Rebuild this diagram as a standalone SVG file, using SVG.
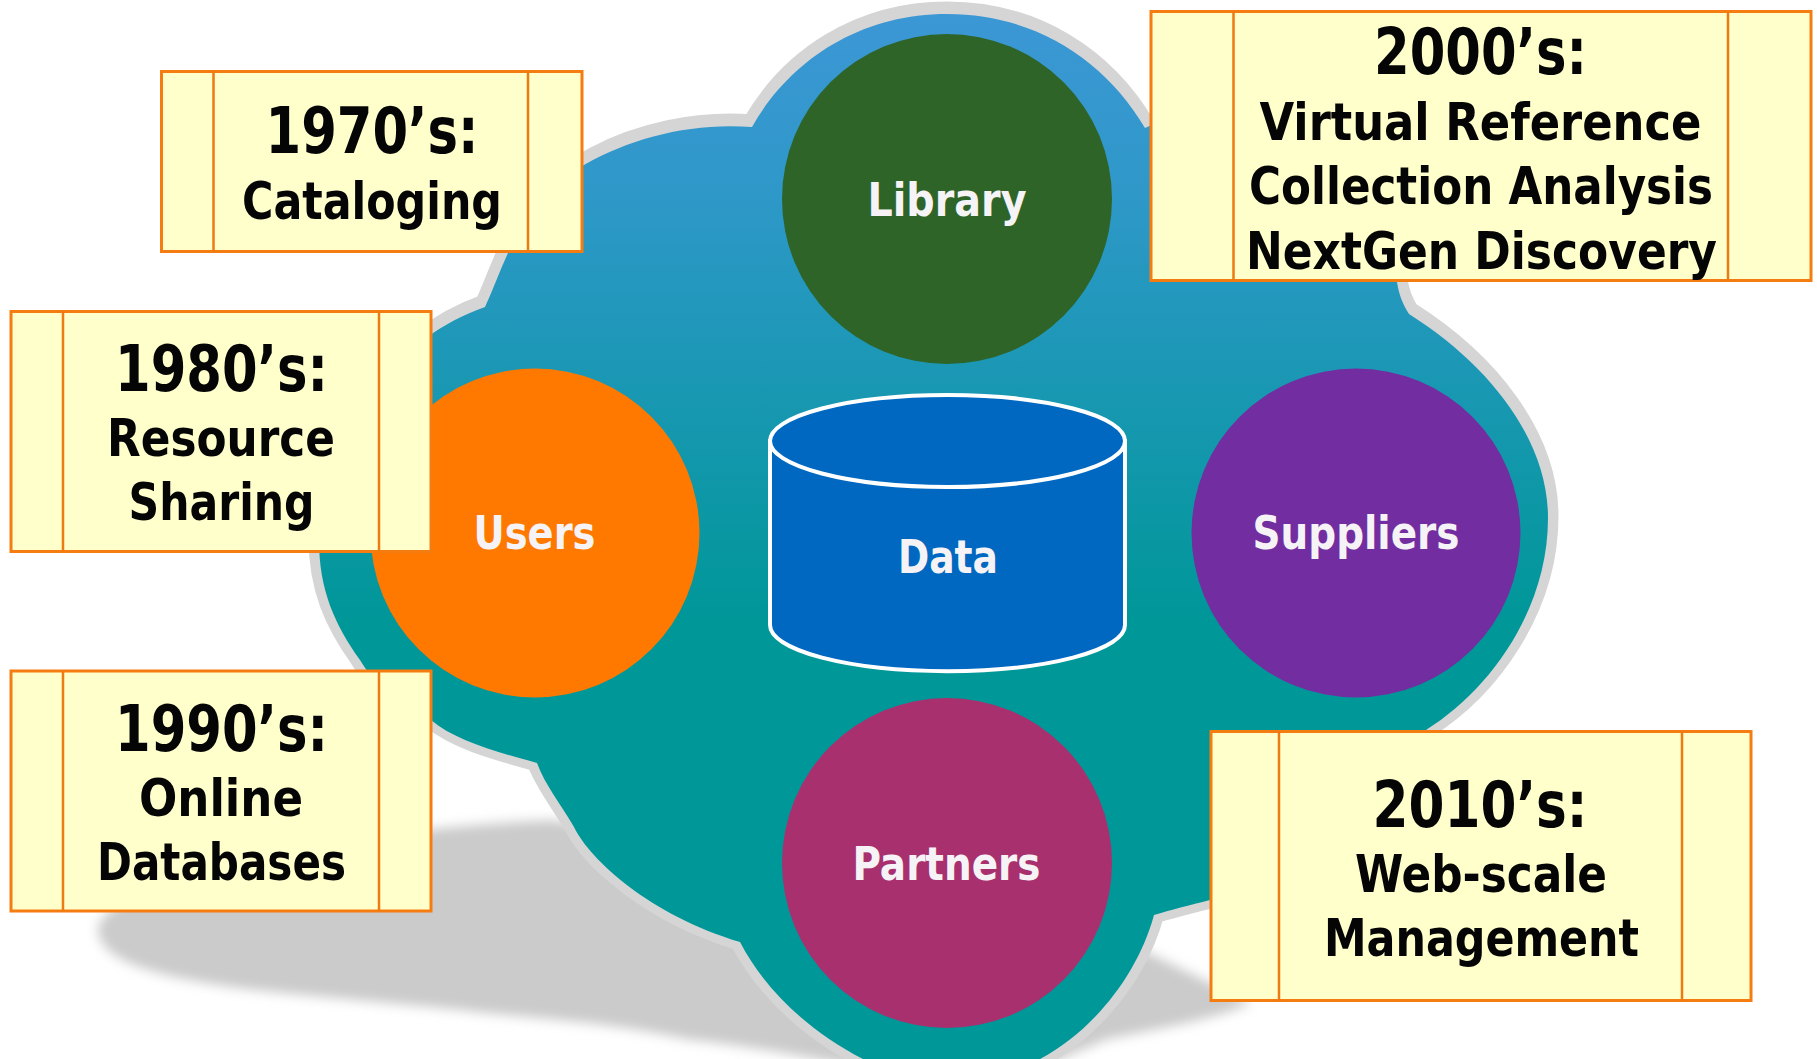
<svg xmlns="http://www.w3.org/2000/svg" xmlns:xlink="http://www.w3.org/1999/xlink" width="1817" height="1059" viewBox="0 0 1817 1059">
<style>
.box{fill:#ffffcc;stroke:#f57c10;stroke-width:3}
.sep{stroke:#ee7a12;stroke-width:2.5;fill:none}
text{font-family:"DejaVu Sans Condensed","DejaVu Sans","Liberation Sans",sans-serif;font-weight:700;text-anchor:middle;font-stretch:condensed}
.yr{font-size:64px;fill:#050505}
.sub{font-size:52px;fill:#050505}
.lbl{font-size:47px;fill:#f6f3f6}
</style>
<defs>
<linearGradient id="sky" gradientUnits="userSpaceOnUse" x1="0" y1="0" x2="0" y2="620">
<stop offset="0" stop-color="#3d97d6"/><stop offset="0.3" stop-color="#2f98c9"/><stop offset="1" stop-color="#009799"/>
</linearGradient>
<filter id="soft" x="-10%" y="-10%" width="120%" height="120%"><feGaussianBlur stdDeviation="6"/></filter>
<path id="cloud" d="M752,127 C790,60 860,14 947,14 C1035,14 1105,60 1145,128 C1230,90 1360,180 1397,282 C1399,295 1403,305 1409,314 C1490,365 1548,440 1548,518 C1548,610 1490,690 1426,730 C1400,830 1300,880 1210,900 C1190,905 1170,910 1154,915 C1135,985 1075,1055 1000,1075 L900,1075 C830,1050 770,1000 740,942 C650,915 590,860 574,827 C560,803 545,785 537,763 C490,750 455,740 431,720 C395,700 375,685 360,660 C335,625 319,590 319,540 C319,440 390,340 485,307 C493,290 500,270 508,253 C525,180 640,118 752,127 Z"/>
</defs>
<rect width="1817" height="1059" fill="#ffffff"/>
<path d="M98,930 C100,885 320,830 551,820 L1000,880 L1251,1003 C1215,1020 1150,1030 1105,1040 C1085,1050 1060,1056 1046,1070 L870,1070 C800,1055 740,1045 690,1040 C600,1020 520,1018 460,1010 C360,1000 290,995 230,987 C150,975 100,960 98,930 Z" fill="#cbcbcb" filter="url(#soft)"/>
<g id="cloud-shape">
<use xlink:href="#cloud" href="#cloud" transform="translate(0,-2)" fill="#d5d5d5" stroke="#d5d5d5" stroke-width="21" stroke-linejoin="round"/>
<use xlink:href="#cloud" href="#cloud" fill="url(#sky)"/>
</g>
<g id="connectors"></g>
<g id="library"><circle cx="947" cy="199" r="165" fill="#2e6428"/><text class="lbl" x="947" y="216" textLength="159" lengthAdjust="spacingAndGlyphs">Library</text></g>
<g id="users"><circle cx="535" cy="533" r="164.500" fill="#ff7900"/><text class="lbl" x="534.500" y="549" textLength="122" lengthAdjust="spacingAndGlyphs">Users</text></g>
<g id="suppliers"><circle cx="1356" cy="533" r="164.500" fill="#722ea0"/><text class="lbl" x="1356" y="549" textLength="207" lengthAdjust="spacingAndGlyphs">Suppliers</text></g>
<g id="partners"><circle cx="947" cy="863" r="165" fill="#a8306e"/><text class="lbl" x="946.500" y="880" textLength="188" lengthAdjust="spacingAndGlyphs">Partners</text></g>
<g id="data">
<path d="M770,441 L770,625 A177,46 0 0 0 1125,625 L1125,441 Z" fill="#0068c0" stroke="#fff" stroke-width="4"/>
<ellipse cx="947.500" cy="441" rx="177.500" ry="46" fill="#0068c0" stroke="#fff" stroke-width="4"/>
<text class="lbl" x="948" y="573" textLength="100" lengthAdjust="spacingAndGlyphs">Data</text>
</g>
<g id="b1970"><rect class="box" x="161.500" y="71.500" width="420.500" height="180"/><path class="sep" d="M213.500,71.500V251.500M528,71.500V251.500"/>
<text class="yr" x="372" y="153" textLength="213" lengthAdjust="spacingAndGlyphs">1970’s:</text>
<text class="sub" x="372" y="218.500" textLength="260" lengthAdjust="spacingAndGlyphs">Cataloging</text></g>
<g id="b1980"><rect class="box" x="11" y="311.500" width="420" height="240"/><path class="sep" d="M63,311.500V551.500M379,311.500V551.500"/>
<text class="yr" x="221.500" y="390.500" textLength="213" lengthAdjust="spacingAndGlyphs">1980’s:</text>
<text class="sub" x="221" y="456" textLength="228" lengthAdjust="spacingAndGlyphs">Resource</text>
<text class="sub" x="221.500" y="520" textLength="186" lengthAdjust="spacingAndGlyphs">Sharing</text></g>
<g id="b1990"><rect class="box" x="11" y="671" width="420" height="240"/><path class="sep" d="M63,671V911M379,671V911"/>
<text class="yr" x="221.500" y="750.500" textLength="213" lengthAdjust="spacingAndGlyphs">1990’s:</text>
<text class="sub" x="221" y="816" textLength="164" lengthAdjust="spacingAndGlyphs">Online</text>
<text class="sub" x="221.500" y="880" textLength="249" lengthAdjust="spacingAndGlyphs">Databases</text></g>
<g id="b2000"><rect class="box" x="1151" y="11.500" width="660" height="269"/><path class="sep" d="M1233.500,11.500V280.500M1728,11.500V280.500"/>
<text class="yr" x="1480.500" y="74" textLength="213" lengthAdjust="spacingAndGlyphs">2000’s:</text>
<text class="sub" x="1480.500" y="140" textLength="442" lengthAdjust="spacingAndGlyphs">Virtual Reference</text>
<text class="sub" x="1481" y="204" textLength="464" lengthAdjust="spacingAndGlyphs">Collection Analysis</text>
<text class="sub" x="1481.500" y="268.500" textLength="471" lengthAdjust="spacingAndGlyphs">NextGen Discovery</text></g>
<g id="b2010"><rect class="box" x="1211" y="731.500" width="540" height="269"/><path class="sep" d="M1279,731.500V1000.500M1682,731.500V1000.500"/>
<text class="yr" x="1480" y="826.500" textLength="215" lengthAdjust="spacingAndGlyphs">2010’s:</text>
<text class="sub" x="1481" y="892" textLength="252" lengthAdjust="spacingAndGlyphs">Web-scale</text>
<text class="sub" x="1481.500" y="956" textLength="315" lengthAdjust="spacingAndGlyphs">Management</text></g>
</svg>
